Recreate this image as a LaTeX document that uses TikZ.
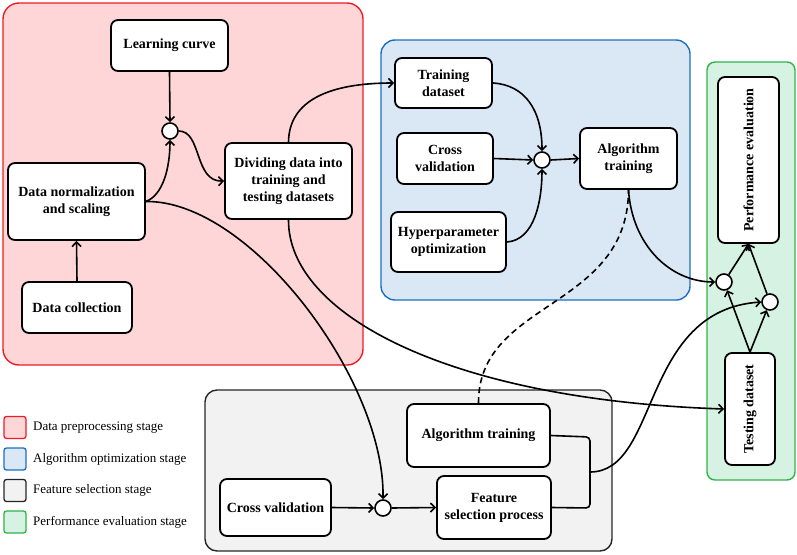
\documentclass[tikz,border=0pt]{standalone}
\usepackage{fontspec}
\setmainfont{Liberation Serif}
\usetikzlibrary{arrows.meta}
\definecolor{redfill}{HTML}{FFD6D8}
\definecolor{redline}{HTML}{EE1C25}
\definecolor{bluefill}{HTML}{DAE8F5}
\definecolor{blueline}{HTML}{1B6FC2}
\definecolor{grayfill}{HTML}{F2F2F2}
\definecolor{grayline}{HTML}{262626}
\definecolor{greenfill}{HTML}{D6F2E3}
\definecolor{greenline}{HTML}{33B24A}
\begin{document}
\begin{tikzpicture}[x=1pt,y=-1pt,
  region/.style={line width=1.4pt, rounded corners=16pt},
  box/.style={draw, line width=1.8pt, rounded corners=7pt, fill=white, align=center,
    font=\bfseries\fontsize{14}{17}\selectfont, inner sep=2pt},
  sz/.style 2 args={minimum width=#1pt, minimum height=#2pt},
  junc/.style={circle, draw, line width=1.6pt, fill=white, minimum size=16pt, inner sep=0pt},
  conn/.style={line width=1.6pt, -{Straight Barb[length=4.5pt,width=9pt]}},
  link/.style={line width=1.6pt},
  legbox/.style={line width=1.3pt, rounded corners=2.5pt, minimum size=22pt, inner sep=0pt},
  legtext/.style={anchor=west, font=\fontsize{13}{15}\selectfont, inner sep=0pt}
]
\useasboundingbox (0,0) rectangle (797,554);

% regions
\draw[region, fill=redfill, draw=redline] (3,3) rectangle (363,365);
\draw[region, fill=bluefill, draw=blueline, rounded corners=14pt] (381,40) rectangle (690,300);
\draw[region, fill=grayfill, draw=grayline, rounded corners=12pt] (205,390) rectangle (612,551);
\draw[region, fill=greenfill, draw=greenline, rounded corners=8pt] (707,62) rectangle (795,480);

% nodes
\node[box, sz={117}{51}] (lc) at (169.5,45.5) {Learning curve};
\node[junc] (c1) at (170,131) {};
\node[box, sz={137}{77}] (dn) at (76.5,201.5) {Data normalization\\and scaling};
\node[box, sz={110}{51}] (dc) at (77,307.5) {Data collection};
\node[box, sz={127}{76}] (dv) at (288.5,181) {Dividing data into\\training and\\testing datasets};

\node[box, sz={97}{50}] (td) at (443.5,83) {Training\\dataset};
\node[box, sz={96}{51}] (cvb) at (445,158.5) {Cross\\validation};
\node[box, sz={115}{60}] (hp) at (448.5,242) {Hyperparameter\\optimization};
\node[junc] (c2) at (542,160) {};
\node[box, sz={97}{61}] (atb) at (628.5,158.5) {Algorithm\\training};

\node[box, sz={166}{61}, rotate=90] (pe) at (748.5,160) {Performance evaluation};
\node[junc] (cA) at (724,282) {};
\node[junc] (cB) at (770,302) {};
\node[box, sz={112}{50}, rotate=90] (ts) at (750,409) {Testing dataset};

\node[box, sz={143}{63}] (atg) at (478.5,435.5) {Algorithm training};
\node[box, sz={111}{57}] (cvg) at (275.5,507.5) {Cross validation};
\node[junc] (c3) at (383,508) {};
\node[box, sz={114}{63}] (fs) at (494,507.5) {Feature\\selection process};

% connectors
\draw[conn] (lc.south) -- (c1.north);
\draw[conn] (dc.north) -- (dn.south);
\draw[conn] (dn.east) .. controls (163,195) and (170,168) .. (c1.south);
\draw[conn] (c1.east) .. controls (202,131) and (194,182) .. (dv.west);
\draw[conn] (dn.east) .. controls (250,200) and (385,380) .. (c3.north);
\draw[conn] (dv.north) .. controls (289,100) and (330,83) .. (td.west);
\draw[conn] (dv.south) .. controls (288,315) and (450,400) .. (ts.north);

\draw[conn] (td.east) .. controls (525,85) and (542,110) .. (c2.north);
\draw[conn] (cvb.east) -- (c2.west);
\draw[conn] (hp.east) .. controls (535,240) and (542,200) .. (c2.south);
\draw[conn] (c2.east) -- (atb.west);

\draw[conn] (atb.south) .. controls (632,245) and (670,282) .. (cA.west);
\draw[link, dashed, dash pattern=on 6pt off 4pt] (atg.north) .. controls (478,300) and (628,310) .. (atb.south);

\draw[conn] (cA) -- (pe.west);
\draw[conn] (cB) -- (pe.west);
\draw[conn] (ts.east) -- (cA);
\draw[conn] (ts.east) -- (cB);

\draw[conn] (cvg.east) -- (c3.west);
\draw[conn] (c3.east) -- (fs.west);
\draw[link, rounded corners=4pt] (atg.east) -- (590,437) -- (590,508) -- (fs.east);
\coordinate (brk) at (590,472);
\draw[conn] (brk) .. controls (660,472) and (640,310) .. (cB.west);

% legend
\node[legbox, draw=redline, fill=redfill] (l1) at (15,427.5) {};
\node[legtext] (t1) at (33,427.5) {Data preprocessing stage};
\node[legbox, draw=blueline, fill=bluefill] (l2) at (15,459) {};
\node[legtext] (t2) at (33,459) {Algorithm optimization stage};
\node[legbox, draw=grayline, fill=grayfill] (l3) at (15,490.5) {};
\node[legtext] (t3) at (33,490.5) {Feature selection stage};
\node[legbox, draw=greenline, fill=greenfill] (l4) at (15,522) {};
\node[legtext] (t4) at (33,522) {Performance evaluation stage};
\end{tikzpicture}
\end{document}
